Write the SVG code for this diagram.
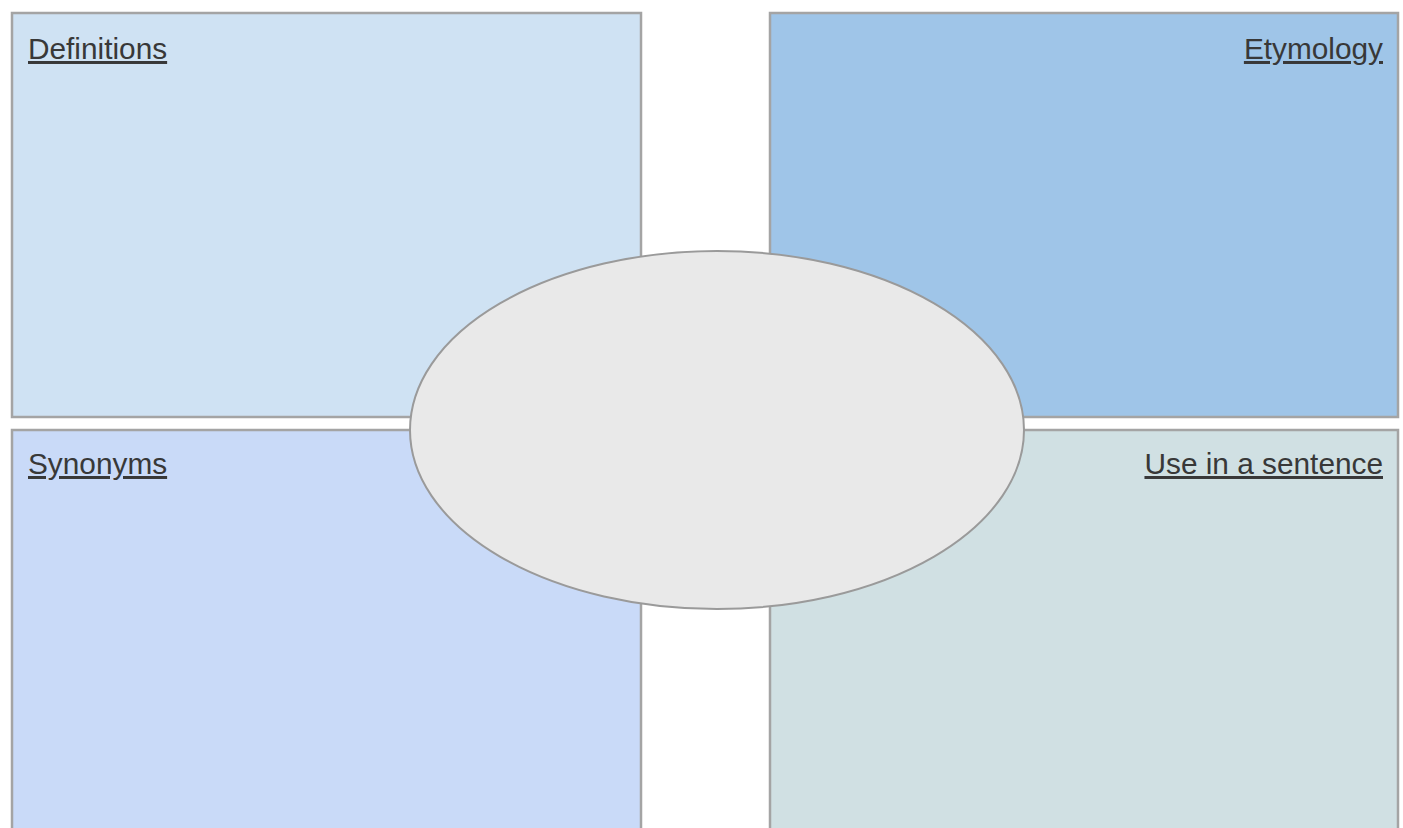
<svg xmlns="http://www.w3.org/2000/svg" width="1403" height="828" viewBox="0 0 1403 828">
<style>
.box{stroke:#a4a4a4;stroke-width:2.5}
.lbl{font-family:"Liberation Sans",Arial,sans-serif;font-size:29.8px;fill:#383838;text-decoration:underline}
.oval{fill:#e9e9e9;stroke:#9a9a9a;stroke-width:2}
</style>
<rect width="1403" height="828" fill="#ffffff"/>
<g id="definitions">
<rect class="box" x="12" y="13" width="629" height="404" fill="#cfe2f3"/>
<text class="lbl" x="28" y="59">Definitions</text>
</g>
<g id="etymology">
<rect class="box" x="770" y="13" width="628" height="404" fill="#9fc5e8"/>
<text class="lbl" x="1383" y="59" text-anchor="end">Etymology</text>
</g>
<g id="synonyms">
<rect class="box" x="12" y="430" width="629" height="410" fill="#c9daf8"/>
<text class="lbl" x="28" y="474">Synonyms</text>
</g>
<g id="sentence">
<rect class="box" x="770" y="430" width="628" height="410" fill="#d0e0e3"/>
<text class="lbl" x="1383" y="474" text-anchor="end">Use in a sentence</text>
</g>
<g id="center">
<ellipse class="oval" cx="717" cy="430" rx="307" ry="179"/>
</g>
<g id="connectors"></g>
</svg>
